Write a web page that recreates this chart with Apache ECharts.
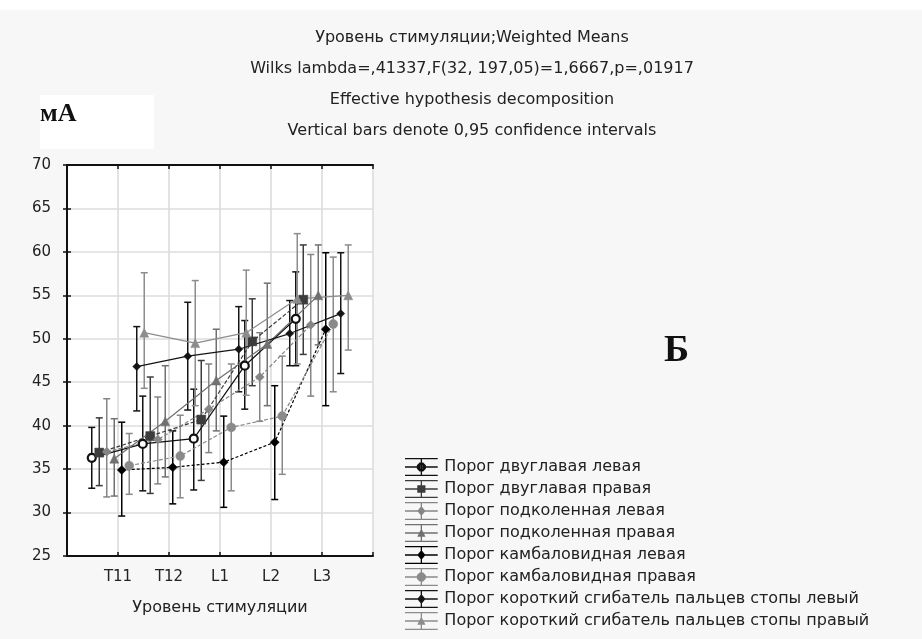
<!DOCTYPE html>
<html>
<head>
<meta charset="utf-8">
<script src="https://cdn.jsdelivr.net/npm/echarts@6/dist/echarts.min.js"></script>
<style>
html,body{margin:0;padding:0;background:#f7f7f7;}
#chart{width:922px;height:639px;}
</style>
</head>
<body>
<div id="chart"></div>
<script>
// ---- data ----
const categories = ['T11', 'T12', 'L1', 'L2', 'L3'];
const yTicks = [25, 30, 35, 40, 45, 50, 55, 60, 65, 70];
const seriesNames = [
  'Порог двуглавая левая',
  'Порог двуглавая правая',
  'Порог подколенная левая',
  'Порог подколенная правая',
  'Порог камбаловидная левая',
  'Порог камбаловидная правая',
  'Порог короткий сгибатель пальцев стопы левый',
  'Порог короткий сгибатель пальцев стопы правый'
];
const s1Mean = [36.3, 37.9, 38.5, 46.9, 52.3];
const s1Low  = [32.8, 32.5, 32.6, 41.9, 46.9];
const s1High = [39.8, 43.4, 44.2, 52.1, 57.7];

const s2Mean = [36.9, 38.8, 40.7, 49.7, 54.5];
const s2Low  = [33.1, 32.2, 33.7, 44.6, 48.2];
const s2High = [40.9, 45.6, 47.5, 54.6, 60.8];

const s3Mean = [37.0, 38.4, 41.9, 45.6, 51.6];
const s3Low  = [31.8, 33.3, 36.9, 40.5, 43.4];
const s3High = [43.1, 43.3, 47.1, 50.7, 59.7];

const s4Mean = [36.2, 40.5, 45.2, 49.4, 55.0];
const s4Low  = [31.9, 34.1, 39.4, 42.3, 49.3];
const s4High = [40.8, 46.9, 51.1, 56.4, 60.8];

const s5Mean = [34.9, 35.2, 35.8, 38.1, 51.1];
const s5Low  = [29.6, 31.0, 30.6, 31.5, 42.3];
const s5High = [40.4, 39.4, 41.1, 44.6, 59.9];

const s6Mean = [35.4, 36.5, 39.8, 41.1, 51.7];
const s6Low  = [32.1, 31.7, 32.5, 34.4, 43.9];
const s6High = [39.1, 41.2, 47.1, 48.0, 59.4];

const s7Mean = [46.8, 48.0, 48.8, 50.6, 52.9];
const s7Low  = [41.7, 41.8, 43.9, 46.9, 46.0];
const s7High = [51.4, 54.2, 53.7, 54.4, 59.9];

const s8Mean = [50.7, 49.5, 50.7, 54.6, 55.0];
const s8Low  = [44.3, 42.3, 43.5, 47.1, 48.7];
const s8High = [57.6, 56.7, 57.9, 62.1, 60.8];

const allMean = [s1Mean, s2Mean, s3Mean, s4Mean, s5Mean, s6Mean, s7Mean, s8Mean];
const allLow  = [s1Low, s2Low, s3Low, s4Low, s5Low, s6Low, s7Low, s8Low];
const allHigh = [s1High, s2High, s3High, s4High, s5High, s6High, s7High, s8High];

// ---- styles ----
const colors = ['#111111', '#3c3c3c', '#858585', '#707070', '#000000', '#8a8a8a', '#141414', '#8c8c8c'];
const symbols = ['circle', 'rect', 'diamond', 'triangle', 'diamond', 'circle', 'diamond', 'triangle'];
const symbolSizes = [8, 9, 9, 9, 9, 9, 8, 9];
const dashes = ['solid', [4, 2], [4, 2], 'solid', [3, 2], [4, 2], 'solid', 'solid'];
const FONT = 'DejaVu Sans';

function markerPath(k) {
  const base = 'M0,0h40v1.6h-40z M0,20.4h40v1.6h-40z M19.2,0h1.6v22h-1.6z M0,10.2h40v1.6h-40z ';
  const oct = 'M17.8,5.5h4.4l3.3,3.3v4.4l-3.3,3.3h-4.4l-3.3,-3.3v-4.4z';
  switch (symbols[k]) {
    case 'circle':
      if (k === 0) return 'path://' + base + oct + ' M18.4,9.4v3.2h3.2v-3.2z';
      return 'path://' + base + oct;
    case 'rect': return 'path://' + base + 'M15,6.5h10v9h-10z';
    case 'diamond': return 'path://' + base + 'M20,5l5,6l-5,6l-5,-6z';
    case 'triangle': return 'path://' + base + 'M20,5.5l5,10h-10z';
  }
}

const offsetStep = 0.147;
const series = [];
for (let k = 0; k < 8; k++) {
  const off = (k - 3.5) * offsetStep;
  const col = colors[k];
  series.push({
    name: seriesNames[k],
    type: 'custom',
    z: 2,
    data: categories.map((c, i) => [i + 1, allLow[k][i], allHigh[k][i]]),
    encode: { x: 0, y: [1, 2] },
    renderItem: function (params, api) {
      const x = api.value(0) + off;
      const top = api.coord([x, api.value(2)]);
      const bot = api.coord([x, api.value(1)]);
      const w = 3.5;
      const st = { stroke: col, lineWidth: 1.5 };
      return {
        type: 'group',
        children: [
          { type: 'line', shape: { x1: top[0], y1: top[1], x2: bot[0], y2: bot[1] }, style: st },
          { type: 'line', shape: { x1: top[0] - w, y1: top[1], x2: top[0] + w, y2: top[1] }, style: st },
          { type: 'line', shape: { x1: bot[0] - w, y1: bot[1], x2: bot[0] + w, y2: bot[1] }, style: st }
        ]
      };
    }
  });
  series.push({
    name: seriesNames[k],
    type: 'line',
    z: 3,
    data: categories.map((c, i) => [i + 1 + off, allMean[k][i]]),
    symbol: symbols[k],
    symbolSize: symbolSizes[k],
    showSymbol: true,
    lineStyle: { color: col, width: 1.2, type: dashes[k] },
    itemStyle: k === 0 ? { color: '#ffffff', borderColor: col, borderWidth: 2.2 } : { color: col, borderColor: col, borderWidth: 0.5 },
    emphasis: { disabled: true },
    animation: false
  });
}

const titleStyle = { fontSize: 16, fontWeight: 'normal', color: '#222', fontFamily: FONT };
const chart = echarts.init(document.getElementById('chart'), null, { renderer: 'canvas' });
chart.setOption({
  backgroundColor: '#f7f7f7',
  animation: false,
  textStyle: { fontFamily: FONT },
  title: [
    { text: 'Уровень стимуляции;Weighted Means', left: 467, top: 25, textAlign: 'center', textStyle: titleStyle },
    { text: 'Wilks lambda=,41337,F(32, 197,05)=1,6667,p=,01917', left: 467, top: 56, textAlign: 'center', textStyle: titleStyle },
    { text: 'Effective hypothesis decomposition', left: 467, top: 87, textAlign: 'center', textStyle: titleStyle },
    { text: 'Vertical bars denote 0,95 confidence intervals', left: 467, top: 118, textAlign: 'center', textStyle: titleStyle }
  ],
  graphic: [
    { type: 'rect', left: 0, top: 0, shape: { width: 922, height: 10 }, style: { fill: '#ffffff' }, z: -10 },
    { type: 'rect', left: 40, top: 95, shape: { width: 114, height: 54 }, style: { fill: '#ffffff' }, z: -10 },
    { type: 'text', left: 40, top: 101, style: { text: 'мА', font: 'bold 26px "Liberation Serif"', fill: '#111' } },
    { type: 'text', left: 664, top: 332, style: { text: 'Б', font: 'bold 38px "Liberation Serif"', fill: '#111' } }
  ],
  grid: {
    left: 67, right: 549, top: 165, bottom: 83,
    show: true, backgroundColor: '#ffffff', borderColor: '#111', borderWidth: 0
  },
  legend: {
    orient: 'vertical',
    left: 405,
    top: 458,
    padding: 0,
    itemWidth: 36,
    itemHeight: 18,
    itemGap: 4,
    selectedMode: false,
    textStyle: { fontSize: 16, color: '#222', fontFamily: FONT, lineHeight: 18 },
    data: seriesNames.map((n, k) => ({ name: n, icon: markerPath(k), itemStyle: { color: colors[k], borderWidth: 0 } }))
  },
  xAxis: [{
    type: 'value',
    min: 0, max: 6, interval: 1,
    name: 'Уровень стимуляции',
    nameLocation: 'middle',
    nameGap: 44,
    nameTextStyle: { fontSize: 16, color: '#222', fontFamily: FONT },
    axisLine: { show: true, lineStyle: { color: '#111', width: 2 } },
    axisTick: { show: true, inside: true, length: 4, lineStyle: { color: '#111', width: 1.5 } },
    axisLabel: {
      fontSize: 15, color: '#222', fontFamily: FONT, margin: 14,
      formatter: v => (v >= 1 && v <= categories.length && Number.isInteger(v)) ? categories[v - 1] : ''
    },
    splitLine: { show: true, lineStyle: { color: '#dcdcdc', width: 1.6 } }
  }, {
    type: 'value', position: 'top',
    min: 0, max: 6, interval: 1,
    axisLine: { show: true, lineStyle: { color: '#111', width: 2 } },
    axisTick: { show: true, inside: true, length: 4, lineStyle: { color: '#111', width: 1.5 } },
    axisLabel: { show: false },
    splitLine: { show: false }
  }],
  yAxis: [{
    type: 'value',
    min: yTicks[0], max: yTicks[yTicks.length - 1], interval: 5,
    axisLine: { show: true, lineStyle: { color: '#111', width: 2 } },
    axisTick: { show: true, inside: true, length: 4, lineStyle: { color: '#111', width: 1.5 } },
    axisLabel: { fontSize: 15, color: '#222', fontFamily: FONT, margin: 16 },
    splitLine: { show: true, lineStyle: { color: '#dcdcdc', width: 1.6 } }
  }, {
    type: 'value', position: 'right',
    min: yTicks[0], max: yTicks[yTicks.length - 1], interval: 5,
    axisLine: { show: true, lineStyle: { color: '#111', width: 2 } },
    axisTick: { show: true, inside: true, length: 4, lineStyle: { color: '#111', width: 1.5 } },
    axisLabel: { show: false },
    splitLine: { show: false }
  }],
  series: series
});
</script>
</body>
</html>
